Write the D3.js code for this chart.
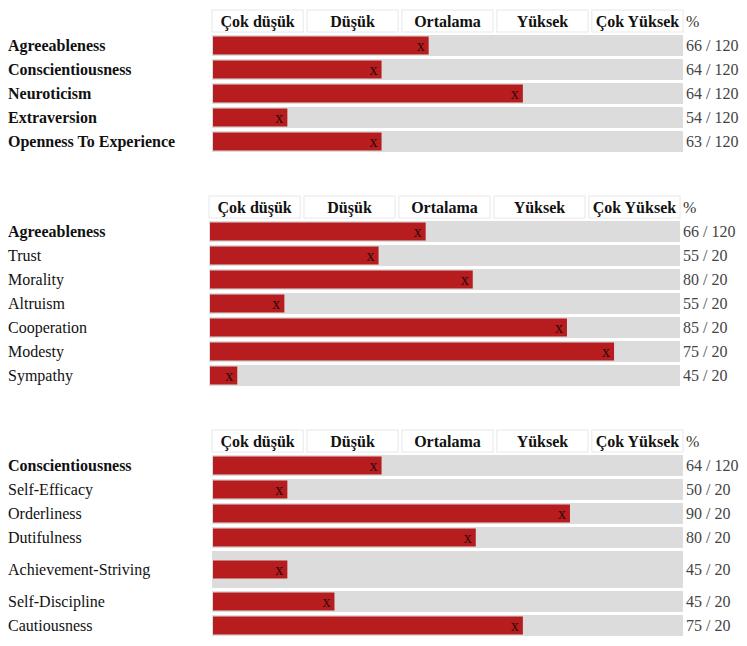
<!DOCTYPE html>
<html>
<head>
<meta charset="utf-8">
<script src="https://cdn.jsdelivr.net/npm/d3@7"></script>
<style>
  body { margin: 0; background: #fff; }
</style>
</head>
<body>
<div class="canvas"></div>
<script>
// level headings shown above each table
const levels = ['Çok düşük', 'Düşük', 'Ortalama', 'Yüksek', 'Çok Yüksek']

// table 1 - big five
const bigFiveLabels = ['Agreeableness', 'Conscientiousness', 'Neuroticism', 'Extraversion', 'Openness To Experience']
const bigFivePercent = [46, 36, 66, 16, 36]
const bigFiveScores = ['66 / 120', '64 / 120', '64 / 120', '54 / 120', '63 / 120']

// table 2 - agreeableness facets
const agreeLabels = ['Agreeableness', 'Trust', 'Morality', 'Altruism', 'Cooperation', 'Modesty', 'Sympathy']
const agreePercent = [46, 36, 56, 16, 76, 86, 6]
const agreeScores = ['66 / 120', '55 / 20', '80 / 20', '55 / 20', '85 / 20', '75 / 20', '45 / 20']

// table 3 - conscientiousness facets
const consLabels = ['Conscientiousness', 'Self-Efficacy', 'Orderliness', 'Dutifulness', 'Achievement-Striving', 'Self-Discipline', 'Cautiousness']
const consPercent = [36, 16, 76, 56, 16, 26, 66]
const consScores = ['64 / 120', '50 / 20', '90 / 20', '80 / 20', '45 / 20', '45 / 20', '75 / 20']

// rows whose label wrapped in the original page, so they are taller
const tallRows = ['Achievement-Striving']

const font = "'Liberation Serif', 'Tinos', monospace"
const fs = 16

const canvas = d3.select('.canvas')
const svg = canvas.append('svg')
    .attr('width', 747)
    .attr('height', 646)

function drawTable(top, left, labels, percent, scores, boldRows) {
  const g = svg.append('g').attr('transform', `translate(0,${top})`)
  const trackW = 471

  const x = d3.scaleLinear().domain([0, 100]).range([left, left + trackW])
  const band = d3.scaleBand().domain(levels).range([left, left + trackW]).paddingInner(0.04)

  // header cells
  const head = g.selectAll('.head').data(levels).enter().append('g')
  head.append('rect')
      .attr('x', d => band(d))
      .attr('y', 0)
      .attr('width', band.bandwidth())
      .attr('height', 22)
      .attr('fill', '#fff')
      .attr('stroke', '#e8e8e8')
  head.append('text')
      .attr('x', d => band(d) + band.bandwidth() / 2)
      .attr('y', 16.5)
      .attr('text-anchor', 'middle')
      .attr('font-size', fs)
      .attr('font-weight', 'bold')
      .attr('fill', '#111')
      .style('font-family', font)
      .text(d => d)
  g.append('text')
      .attr('x', left + trackW + 3)
      .attr('y', 16.5)
      .attr('font-size', fs)
      .attr('fill', '#333')
      .style('font-family', font)
      .text('%')

  // row positions, normal rows 24px apart, wrapped rows taller
  const rows = []
  let y = 25
  labels.forEach((l, i) => {
    const h = tallRows.includes(l) ? 37 : 21
    rows.push({ label: l, pct: percent[i], score: scores[i], y: y, h: h, bold: boldRows.includes(i) })
    y += h + 3
  })

  const row = g.selectAll('.row').data(rows).enter().append('g')

  row.append('text')
      .attr('x', 8)
      .attr('y', d => d.y + d.h / 2 + 5)
      .attr('font-size', fs)
      .attr('font-weight', d => d.bold ? 'bold' : 'normal')
      .attr('fill', '#111')
      .style('font-family', font)
      .text(d => d.label)

  // grey track
  row.append('rect')
      .attr('x', x(0))
      .attr('y', d => d.y)
      .attr('width', x(100) - x(0))
      .attr('height', d => d.h)
      .attr('fill', '#dcdcdd')

  // red bar
  row.append('rect')
      .attr('x', x(0) + 1)
      .attr('y', d => d.y + d.h / 2 - 9)
      .attr('width', d => x(d.pct) - x(0) - 1)
      .attr('height', 18)
      .attr('fill', '#b71c1f')

  // x marker at end of bar
  row.append('text')
      .attr('x', d => x(d.pct) - 4)
      .attr('y', d => d.y + d.h / 2 + 5)
      .attr('text-anchor', 'end')
      .attr('font-size', fs)
      .attr('fill', '#2a0a0a')
      .style('font-family', font)
      .text('x')

  row.append('text')
      .attr('x', left + trackW + 3)
      .attr('y', d => d.y + d.h / 2 + 5)
      .attr('font-size', fs)
      .attr('fill', '#444')
      .style('font-family', font)
      .text(d => d.score)
}

drawTable(10, 212, bigFiveLabels, bigFivePercent, bigFiveScores, [0, 1, 2, 3, 4])
drawTable(196, 209, agreeLabels, agreePercent, agreeScores, [0])
drawTable(430, 212, consLabels, consPercent, consScores, [0])
</script>
</body>
</html>
